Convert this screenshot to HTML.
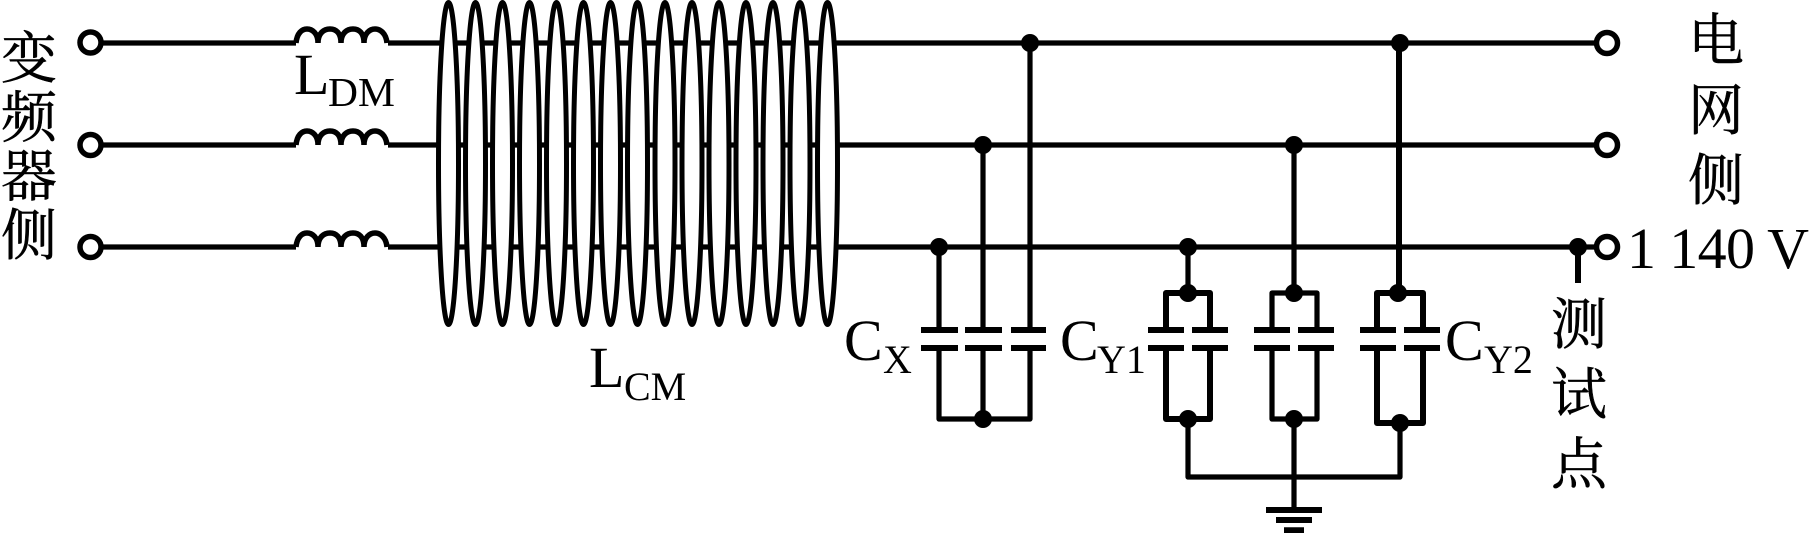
<!DOCTYPE html>
<html><head><meta charset="utf-8"><style>
html,body{margin:0;padding:0;background:#fff;width:1809px;height:533px;overflow:hidden}
svg{display:block}
.c{font-family:"Noto Serif CJK SC","Liberation Serif",serif;font-size:56px;fill:#000;stroke:#000;stroke-width:.5}
.l{font-family:"Liberation Serif",serif;font-size:58px;fill:#000}
.s{font-family:"Liberation Serif",serif;font-size:41.500px;fill:#000}
.t{font-family:"Liberation Serif",serif;font-size:40px;fill:#000}
</style></head><body>
<svg width="1809" height="533" viewBox="0 0 1809 533" xmlns="http://www.w3.org/2000/svg">
<g fill="none" stroke="#000" stroke-width="5.200">
<path d="M90 43H296M388 43H830M90 145H296M388 145H830M90 247H296M388 247H830"/>
<path d="M830 43H1607M830 145H1607M830 247H1607"/>
</g>
<g fill="none" stroke="#000" stroke-width="5.500">
<path d="M296 43c1-10 6-14 11-14s11 4 11 14c0-10 6-14 12-14s11 4 11 14c0-10 6-14 12-14s11 4 11 14c0-10 6-14 11-14s11 4 12 14"/>
<path d="M296 145c1-10 6-14 11-14s11 4 11 14c0-10 6-14 12-14s11 4 11 14c0-10 6-14 12-14s11 4 11 14c0-10 6-14 11-14s11 4 12 14"/>
<path d="M296 247c1-10 6-14 11-14s11 4 11 14c0-10 6-14 12-14s11 4 11 14c0-10 6-14 12-14s11 4 11 14c0-10 6-14 11-14s11 4 12 14"/>
</g>
<g fill="#fff" stroke="#000" stroke-width="5">
<ellipse cx="448.500" cy="163.500" rx="10" ry="161"/>
<ellipse cx="475.500" cy="163.500" rx="10" ry="161"/>
<ellipse cx="502.500" cy="163.500" rx="10" ry="161"/>
<ellipse cx="529.500" cy="163.500" rx="10" ry="161"/>
<ellipse cx="556.500" cy="163.500" rx="10" ry="161"/>
<ellipse cx="583.500" cy="163.500" rx="10" ry="161"/>
<ellipse cx="610.500" cy="163.500" rx="10" ry="161"/>
<ellipse cx="637.500" cy="163.500" rx="10" ry="161"/>
<ellipse cx="665" cy="163.500" rx="10" ry="161"/>
<ellipse cx="692" cy="163.500" rx="10" ry="161"/>
<ellipse cx="719" cy="163.500" rx="10" ry="161"/>
<ellipse cx="746" cy="163.500" rx="10" ry="161"/>
<ellipse cx="773" cy="163.500" rx="10" ry="161"/>
<ellipse cx="800" cy="163.500" rx="10" ry="161"/>
<ellipse cx="827.500" cy="163.500" rx="10" ry="161"/>
</g>
<g fill="none" stroke="#000" stroke-width="5.200" stroke-linejoin="round">
<path d="M939 247V330M983 145V330M1030 43V330"/>
<path d="M939 348V419H1030V348M983 348V419"/>
<path d="M1188 247V293M1294 145V293M1294 419V510M1400 423V477H1188V419"/>
<path d="M1272 330V293H1317V330M1272 348V419H1317V348"/>
</g>
<g fill="none" stroke="#000" stroke-width="6" stroke-linejoin="round">
<path d="M921 330H958M921 348H958M965 330H1002M965 348H1002M1011 330H1046M1011 348H1046"/>
<path d="M1166 330V293H1210V330M1166 348V419H1210V348"/>
<path d="M1148 330H1184M1148 348H1184M1192 330H1228M1192 348H1228"/>
<path d="M1254 330H1290M1254 348H1290M1298 330H1334M1298 348H1334"/>
<path d="M1399 43V293M1377 330V293H1423V330"/>
<path d="M1377 348V423H1423V348"/>
<path d="M1360 330H1396M1360 348H1396M1404 330H1440M1404 348H1440"/>
<path d="M1266 510H1322M1276 520H1312"/>
<path d="M1284 530.500H1304" stroke-width="6.500"/>
<path d="M1578 247V283"/>
</g>
<g fill="#000">
<circle cx="1030" cy="43" r="9"/><circle cx="1400" cy="43" r="9"/>
<circle cx="983" cy="145" r="9"/><circle cx="1294" cy="145" r="9"/>
<circle cx="939" cy="247" r="9"/><circle cx="1188" cy="247" r="9"/><circle cx="1578" cy="247" r="9"/>
<circle cx="1188" cy="293" r="9"/><circle cx="1294" cy="293" r="9"/><circle cx="1398" cy="293" r="9"/>
<circle cx="983" cy="419" r="9"/><circle cx="1188" cy="419" r="9"/><circle cx="1294" cy="419" r="9"/><circle cx="1400" cy="423" r="9"/>
</g>
<g fill="#fff" stroke="#000" stroke-width="5.500">
<circle cx="90.500" cy="42.500" r="10.500"/><circle cx="90.500" cy="145" r="10.500"/><circle cx="90.500" cy="247" r="10.500"/>
<circle cx="1607" cy="43" r="10.500"/><circle cx="1607" cy="145" r="10.500"/><circle cx="1607" cy="247" r="10.500"/>
</g>
<text class="c" x="1" y="78">变</text>
<text class="c" x="1" y="137">频</text>
<text class="c" x="1" y="196">器</text>
<text class="c" x="1" y="255">侧</text>
<text class="c" x="1688" y="60">电</text>
<text class="c" x="1688" y="130">网</text>
<text class="c" x="1688" y="200">侧</text>
<text class="c" x="1551" y="344">测</text>
<text class="c" x="1551" y="414">试</text>
<text class="c" x="1551" y="484">点</text>
<text class="l" x="294" y="94">L</text><text class="s" x="328" y="106">DM</text>
<text class="l" x="589" y="387">L</text><text class="t" x="624" y="400">CM</text>
<text class="l" x="844" y="360">C</text><text class="t" x="883" y="373">X</text>
<text class="l" x="1060" y="360">C</text><text class="t" x="1097" y="373">Y1</text>
<text class="l" x="1445" y="360">C</text><text class="t" x="1484" y="373">Y2</text>
<text class="l" x="1627" y="268" xml:space="preserve" textLength="182">1 140 V</text>
</svg>
</body></html>
